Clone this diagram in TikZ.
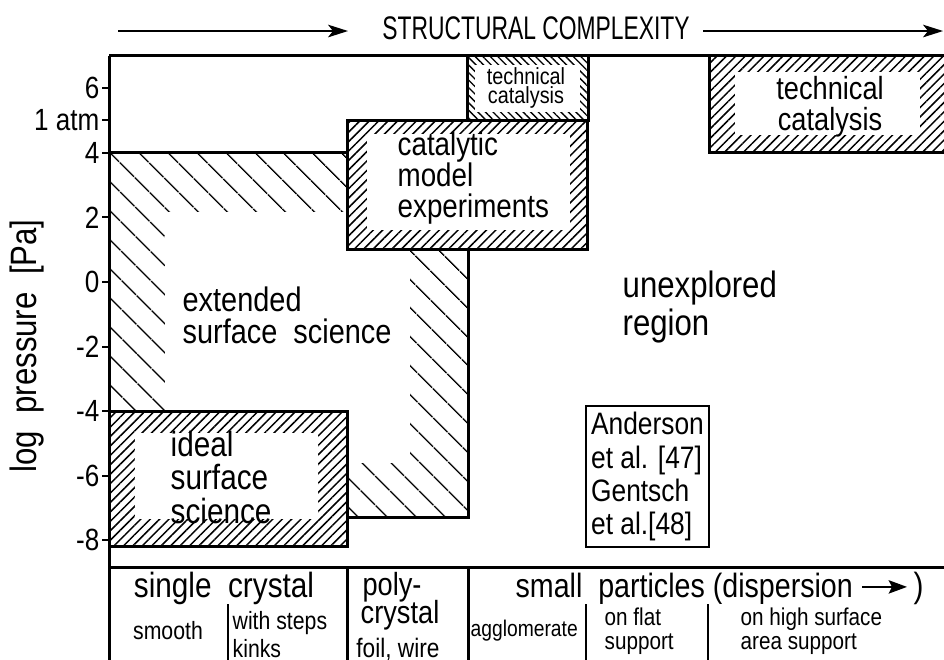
\documentclass[tikz,border=0pt]{standalone}
\usepackage{fontspec}
\setmainfont{Liberation Sans}[FakeStretch=0.85]
\newfontfamily\capsfont{Liberation Sans}[FakeStretch=0.7]
\usetikzlibrary{arrows.meta,patterns.meta}

\newcommand{\fsz}[2]{\fontsize{#1pt}{#2pt}\selectfont}

\tikzset{
    frame/.style={line width=0.9pt},
    rule/.style={line width=0.6pt},
    dense/.style={pattern={Lines[angle=45,distance=2pt,line width=0.45pt]}},
    denseback/.style={pattern={Lines[angle=-45,distance=1.6pt,line width=0.4pt]}},
    sparse/.style={pattern={Lines[angle=-45,distance=6.4pt,line width=0.55pt]}},
    lbl/.style={inner sep=0pt, align=left},
    arr/.style={line width=0.45pt, -{Stealth[length=6pt,width=3.8pt,inset=1.5pt]}},
}

\begin{document}
\begin{tikzpicture}[x=0.3pt, y=9.69pt]
    \useasboundingbox (0,-11.7) rectangle (944,8.73);
    \clip (0,-11.7) rectangle (944,8.73);

    % structural complexity
    \node[lbl, font=\capsfont\fsz{9.8}{10}] (title) at (536,7.86) {STRUCTURAL COMPLEXITY};
    \coordinate (ta) at (118,7.77);
    \coordinate (tb) at (348,7.77);
    \coordinate (tc) at (703,7.77);
    \coordinate (td) at (943,7.77);
    \draw[arr] (ta) -- (tb);
    \draw[arr] (tc) -- (td);

    % extended surface science
    \fill[sparse] (109,4) rectangle (468,-7.3);
    \fill[white] (165,2.17) rectangle (410,-5.6);
    \draw[frame] (109,4) rectangle (468,-7.3);

    % ideal surface science
    \fill[white] (109,-4) rectangle (347,-8.2);
    \fill[dense] (109,-4) rectangle (347,-8.2);
    \fill[white] (135,-4.67) rectangle (318,-7.35);
    \draw[frame] (109,-4) rectangle (347,-8.2);

    % catalytic model experiments
    \fill[white] (347,5) rectangle (587,1);
    \fill[dense] (347,5) rectangle (587,1);
    \fill[white] (367,4.58) rectangle (570,1.61);
    \draw[frame] (347,5) rectangle (587,1);

    % technical catalysis (small)
    \fill[white] (467,7) rectangle (588,5);
    \fill[denseback] (467,7) rectangle (588,5);
    \fill[white] (475,6.72) rectangle (580,5.26);
    \draw[frame] (467,7) rectangle (588,5);

    % technical catalysis (large)
    \fill[white] (709,7) rectangle (960,4);
    \fill[dense] (709,7) rectangle (960,4);
    \fill[white] (735,6.5) rectangle (920,4.55);
    \draw[frame] (709,7) rectangle (960,4);

    % axes
    \draw[frame] (109,7) -- (109,-11.7);
    \draw[frame] (109,7) -- (944,7);
    \foreach \p in {-8,-6,-4,-2,0,2,4,6} {
        \draw[rule] (102,\p) -- (109,\p);
        \node[lbl, anchor=east, font=\fsz{9.2}{9.2}] (tick\p) at (100,\p) {\p};
    }
    \draw[rule] (102,5) -- (109,5);
    \node[lbl, anchor=east, font=\fsz{9.2}{9.2}] (atm) at (100,5) {1 atm};
    \node[lbl, rotate=90, font=\fsz{11}{11}] (ylabel) at (27,-1.98) {log~~pressure~~[Pa]};

    % region labels
    \node[lbl, anchor=west, font=\fsz{10.2}{9.6}] (ext) at (182,-1.04) {extended\\surface~~science};
    \node[lbl, anchor=west, font=\fsz{11}{11.4}] (unexpl) at (622,-0.77) {unexplored\\region};
    \node[lbl, anchor=west, font=\fsz{9.8}{9.3}] (catmod) at (397,3.22) {catalytic\\model\\experiments};
    \node[lbl, anchor=west, font=\fsz{10.5}{10}] (ideal) at (170,-6.05) {ideal\\surface\\science};
    \node[lbl, align=center, font=\fsz{7}{5.6}] (techA) at (526,6.0) {technical\\catalysis};
    \node[lbl, align=center, font=\fsz{9.6}{9.4}] (techB) at (830,5.42) {technical\\catalysis};
    \node[draw, rule, inner sep=0pt, minimum width=36.9pt, minimum height=42.2pt,
          align=left, font=\fsz{9.3}{10}] (refs) at (647.5,-6.03)
          {Anderson\\et al. [47]\\Gentsch\\et al.[48]};

    % sample table
    \draw[frame] (109,-8.85) -- (944,-8.85);
    \draw[frame] (347,-8.85) -- (347,-11.7);
    \draw[frame] (468,-8.85) -- (468,-11.7);
    \foreach \x in {228,586,708}
        \draw[rule] (\x,-9.97) -- (\x,-11.7);

    \node[lbl, anchor=base, font=\fsz{10.5}{10.5}] (single) at (224,-9.78) {single~~crystal};
    \node[lbl, anchor=base, font=\fsz{7.5}{7.5}] (smooth) at (168,-11.08) {smooth};
    \node[lbl, anchor=base west, font=\fsz{7.5}{7.5}] (steps) at (232,-10.77) {with steps};
    \node[lbl, anchor=base west, font=\fsz{7.5}{7.5}] (kinks) at (232,-11.64) {kinks};
    \node[lbl, anchor=base, font=\fsz{9.6}{9.6}] (poly) at (392,-9.70) {poly-};
    \node[lbl, anchor=base, font=\fsz{9.6}{9.6}] (polyc) at (400,-10.56) {crystal};
    \node[lbl, anchor=base, font=\fsz{8}{8}] (foil) at (398,-11.64) {foil, wire};
    \node[lbl, anchor=base west, font=\fsz{10.1}{10.1}] (small) at (515,-9.78) {small~~particles (dispersion};
    \node[lbl, anchor=base west, font=\fsz{10.5}{10.5}] (rpar) at (913,-9.78) {)};
    \coordinate (da) at (862,-9.44);
    \coordinate (db) at (907,-9.44);
    \draw[rule, -{Stealth[length=5.5pt,width=4pt,inset=1pt]}] (da) -- (db);
    \node[lbl, anchor=base west, font=\fsz{6.8}{6.8}] (agglo) at (470,-10.99) {agglomerate};
    \node[lbl, anchor=base west, font=\fsz{7.3}{7.3}] (flat) at (604,-10.65) {on flat};
    \node[lbl, anchor=base west, font=\fsz{7.3}{7.3}] (flats) at (604,-11.38) {support};
    \node[lbl, anchor=base west, font=\fsz{7.3}{7.3}] (high) at (740,-10.65) {on high surface};
    \node[lbl, anchor=base west, font=\fsz{7.3}{7.3}] (highs) at (740,-11.38) {area support};
\end{tikzpicture}
\end{document}
